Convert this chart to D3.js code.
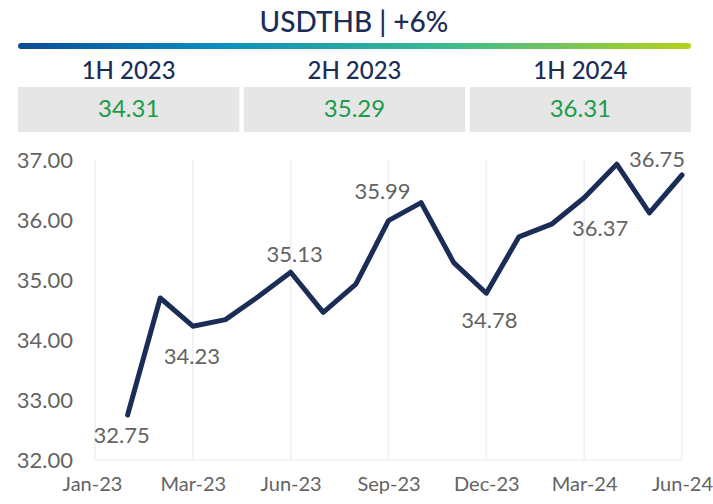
<!DOCTYPE html>
<html>
<head>
<meta charset="utf-8">
<script src="https://cdn.jsdelivr.net/npm/d3@7"></script>
<style>
  html, body { margin: 0; padding: 0; background: #fff; }
  text { font-family: Lato, "Open Sans", sans-serif; }
</style>
</head>
<body>
<svg id="chart"></svg>
<script>
// Header data
const title = "USDTHB | +6%";
const periods = ["1H 2023", "2H 2023", "1H 2024"];
const periodAvg = [34.31, 35.29, 36.31];

// Monthly series, Jan-23 .. Jun-24
const months = ["Jan-23","Feb-23","Mar-23","Apr-23","May-23","Jun-23","Jul-23","Aug-23","Sep-23",
                "Oct-23","Nov-23","Dec-23","Jan-24","Feb-24","Mar-24","Apr-24","May-24","Jun-24"];
const rates = [32.75, 34.70, 34.23, 34.34, 34.72, 35.13, 34.46, 34.93, 35.99,
               36.29, 35.29, 34.78, 35.72, 35.93, 36.37, 36.93, 36.12, 36.75];

// Axis labels
const yTicks = [32, 33, 34, 35, 36, 37];
const xTickLabels = ["Jan-23", "Mar-23", "Jun-23", "Sep-23", "Dec-23", "Mar-24", "Jun-24"];

// Which points get a value label, and where it sits
const labelled = [0, 2, 5, 8, 11, 14, 17];
const labelPlace = {0: [-6, 20], 2: [-1, 30], 5: [4, -18], 8: [-6, -29], 11: [3, 27], 14: [16, 30], 17: [-25, -16]};

const width = 713, height = 504;
const navy = "#1b2d57";
const grey = "#636363";

const svg = d3.select("#chart")
    .attr("width", width)
    .attr("height", height);

// ---- header ----
svg.append("text")
    .attr("x", 354).attr("y", 32)
    .attr("text-anchor", "middle")
    .attr("font-size", 28)
    .attr("font-weight", 500)
    .attr("fill", navy)
    .text(title);

const grad = svg.append("defs").append("linearGradient")
    .attr("id", "bar-grad")
    .attr("x1", "0%").attr("x2", "100%");
grad.append("stop").attr("offset", "0%").attr("stop-color", "#0b4d94");
grad.append("stop").attr("offset", "30%").attr("stop-color", "#0a8ec0");
grad.append("stop").attr("offset", "65%").attr("stop-color", "#3fbb8c");
grad.append("stop").attr("offset", "100%").attr("stop-color", "#b6d11c");

svg.append("rect")
    .attr("x", 18).attr("y", 43)
    .attr("width", 673).attr("height", 6)
    .attr("rx", 3)
    .attr("fill", "url(#bar-grad)");

const col = d3.scaleBand()
    .domain(periods)
    .range([18, 691])
    .paddingInner(0.02);

const cells = svg.selectAll("g.period")
    .data(periods)
    .join("g")
    .attr("class", "period");

cells.append("text")
    .attr("x", d => col(d) + col.bandwidth() / 2)
    .attr("y", 79)
    .attr("text-anchor", "middle")
    .attr("font-size", 24)
    .attr("font-weight", 500)
    .attr("fill", navy)
    .text(d => d);

cells.append("rect")
    .attr("x", d => col(d))
    .attr("y", 87)
    .attr("width", col.bandwidth())
    .attr("height", 45)
    .attr("fill", "#e6e6e6");

cells.append("text")
    .attr("x", d => col(d) + col.bandwidth() / 2)
    .attr("y", 117)
    .attr("text-anchor", "middle")
    .attr("font-size", 24)
    .attr("fill", "#1a9c4b")
    .text((d, i) => periodAvg[i].toFixed(2));

// ---- line chart ----
const x = d3.scaleLinear()
    .domain([-1, months.length - 1])
    .range([95, 682]);

const y = d3.scaleLinear()
    .domain([32, 37])
    .range([460, 160]);

const tickIdx = [-1, 2, 5, 8, 11, 14, 17];

// vertical gridlines
svg.append("g")
    .selectAll("line")
    .data(tickIdx)
    .join("line")
    .attr("x1", d => x(d)).attr("x2", d => x(d))
    .attr("y1", y(37)).attr("y2", y(32))
    .attr("stroke", "#f0f0f0")
    .attr("stroke-width", 1.5);

// baseline
svg.append("line")
    .attr("x1", x(-1)).attr("x2", x(17))
    .attr("y1", y(32)).attr("y2", y(32))
    .attr("stroke", "#f0f0f0")
    .attr("stroke-width", 1.5);

// y axis labels
const yAxis = svg.append("g")
    .attr("transform", `translate(${x(-1) - 22},0)`)
    .call(d3.axisLeft(y).tickValues(yTicks).tickFormat(d3.format(".2f")).tickSize(0).tickPadding(0));
yAxis.select(".domain").remove();
yAxis.selectAll("text")
    .attr("font-size", 22)
    .attr("fill", grey)
    .style("font-family", "Lato, sans-serif");

// x axis labels
const xAxis = svg.append("g")
    .attr("transform", `translate(0,${y(32) + 17})`)
    .call(d3.axisBottom(x).tickValues(tickIdx)
        .tickFormat((d, i) => xTickLabels[i]).tickSize(0).tickPadding(0));
xAxis.select(".domain").remove();
xAxis.selectAll("text")
    .attr("font-size", 20)
    .attr("fill", grey)
    .style("font-family", "Lato, sans-serif")
    .attr("dx", (d, i) => i === 0 ? -3 : 0);

// the line
const line = d3.line()
    .x((d, i) => x(i))
    .y(d => y(d));

svg.append("path")
    .datum(rates)
    .attr("d", line)
    .attr("fill", "none")
    .attr("stroke", navy)
    .attr("stroke-width", 5)
    .attr("stroke-linejoin", "round")
    .attr("stroke-linecap", "round");

// value labels
svg.append("g")
    .selectAll("text")
    .data(labelled)
    .join("text")
    .attr("x", i => x(i) + labelPlace[i][0])
    .attr("y", i => y(rates[i]) + labelPlace[i][1])
    .attr("dy", "0.35em")
    .attr("text-anchor", "middle")
    .attr("font-size", 22)
    .attr("fill", grey)
    .text(i => rates[i].toFixed(2));
</script>
</body>
</html>
